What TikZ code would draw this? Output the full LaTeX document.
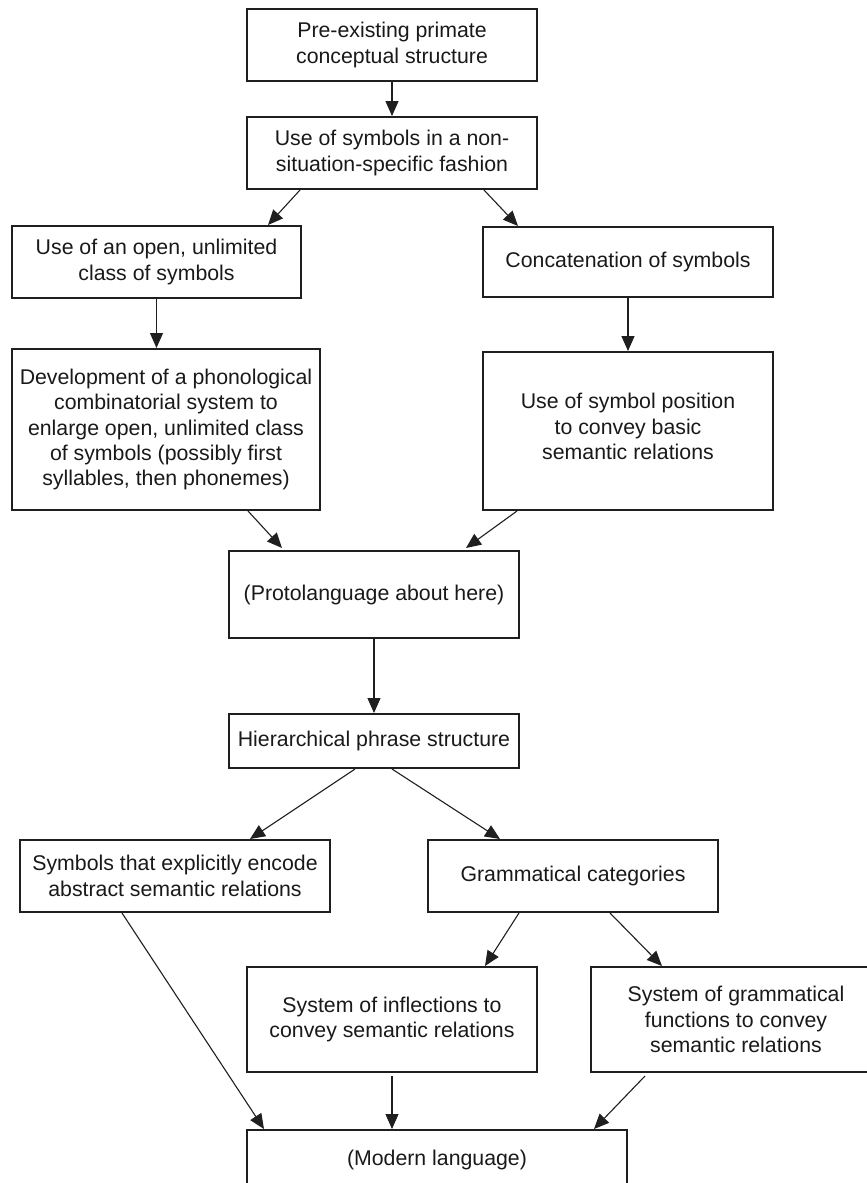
\documentclass[tikz,border=0pt]{standalone}
\usepackage{fontspec}
\setmainfont{Liberation Sans}
\usetikzlibrary{arrows.meta}
\begin{document}
\begin{tikzpicture}[x=0.5pt,y=-0.5pt,
  box/.style={draw=black!88, line width=1pt, align=center, inner sep=0pt,
    font=\fontsize{10.65}{12.65}\selectfont, text=black!90},
  arr/.style={draw=black!88, line width=0.55pt, -{Triangle[length=7.5pt,width=6.5pt]}}]
\useasboundingbox (0,0) rectangle (867,1183);
\node[box, minimum width=145pt, minimum height=36pt] (b1) at (392,45) {Pre-existing primate\\conceptual structure};
\node[box, minimum width=145pt, minimum height=36pt] (b2) at (392,153) {Use of symbols in a non-\\situation-specific fashion};
\node[box, minimum width=144.5pt, minimum height=36pt] (b3) at (156.5,262) {Use of an open, unlimited\\class of symbols};
\node[box, minimum width=145pt, minimum height=35pt] (b4) at (628,262) {Concatenation of symbols};
\node[box, minimum width=154pt, minimum height=80.5pt] (b5) at (166,429.5) {Development of a phonological\\combinatorial system to\\enlarge open, unlimited class\\of symbols (possibly first\\syllables, then phonemes)};
\node[box, minimum width=145pt, minimum height=79pt] (b6) at (628,431) {Use of symbol position\\to convey basic\\semantic relations\\[-8.15pt]\mbox{}};
\node[box, minimum width=145pt, minimum height=43.5pt] (b7) at (374,594.5) {(Protolanguage about here)};
\node[box, minimum width=145pt, minimum height=27pt] (b8) at (374,741) {Hierarchical phrase structure};
\node[box, minimum width=155pt, minimum height=36pt] (b9) at (175,876) {Symbols that explicitly encode\\abstract semantic relations};
\node[box, minimum width=145pt, minimum height=36pt] (b10) at (573,876) {Grammatical categories};
\node[box, minimum width=145pt, minimum height=52.5pt] (b11) at (392,1019.5) {System of inflections to\\convey semantic relations};
\node[box, minimum width=145pt, minimum height=52.5pt] (b12) at (736,1019.5) {System of grammatical\\functions to convey\\semantic relations};
\node[box, minimum width=190pt, minimum height=30pt] (b13) at (437,1160) {(Modern language)};
\draw[arr] (b1.south) -- (b2.north);
\draw[arr] ([xshift=-46pt]b2.south) -- ([xshift=55.75pt]b3.north);
\draw[arr] ([xshift=46pt]b2.south) -- ([xshift=-55pt]b4.north);
\draw[arr] (b3.south) -- (b3.south |- b5.north);
\draw[arr] (b4.south) -- (b4.south |- b6.north);
\draw[arr] ([xshift=41pt]b5.south) -- ([xshift=-46pt,yshift=1pt]b7.north);
\draw[arr] ([xshift=-55.5pt]b6.south) -- ([xshift=46pt,yshift=1pt]b7.north);
\draw[arr] (b7.south) -- (b8.north);
\draw[arr] ([xshift=-9.5pt]b8.south) -- ([xshift=37.5pt]b9.north);
\draw[arr] ([xshift=9pt]b8.south) -- ([xshift=-36.5pt]b10.north);
\draw[arr] ([xshift=-26.5pt]b9.south) -- ([xshift=-86.5pt]b13.north);
\draw[arr] ([xshift=-27pt]b10.south) -- ([xshift=46.5pt]b11.north);
\draw[arr] ([xshift=18.5pt]b10.south) -- ([xshift=-37pt]b12.north);
\draw[arr] ([yshift=-1.5pt]b11.south) -- (b11.south |- b13.north);
\draw[arr] ([xshift=-45.5pt,yshift=-1.5pt]b12.south) -- ([xshift=78.5pt]b13.north);
\end{tikzpicture}
\end{document}
